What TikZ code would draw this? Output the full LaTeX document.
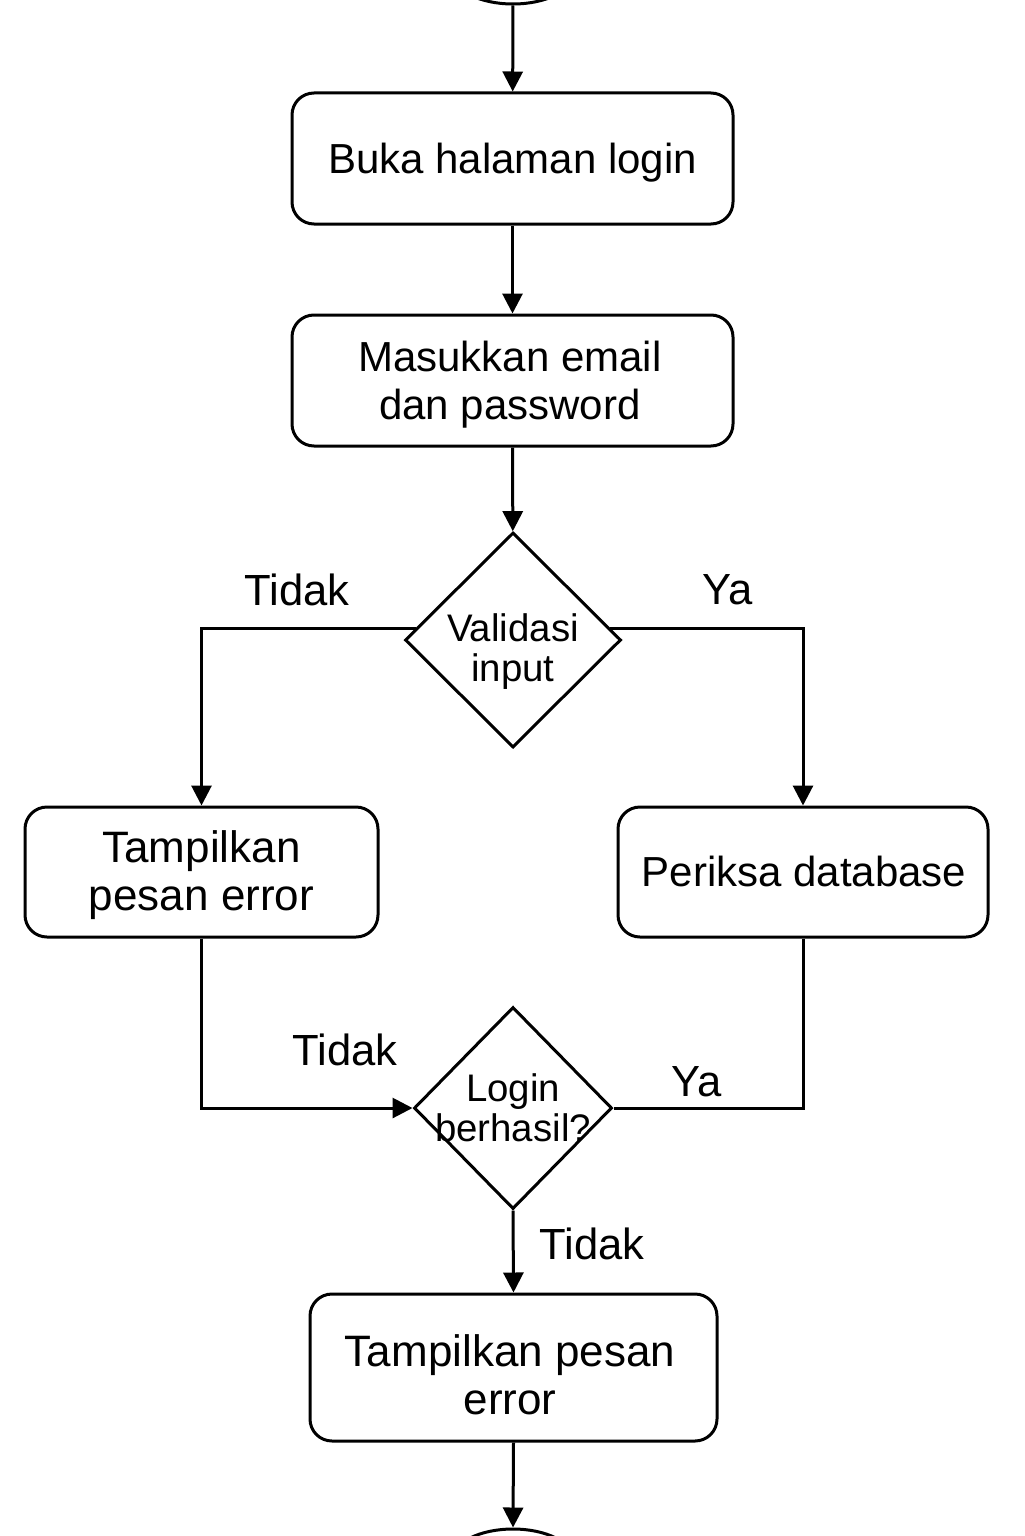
\documentclass[tikz,border=0pt]{standalone}
\usepackage{fontspec}
\setmainfont{Liberation Sans}
\usetikzlibrary{shapes.geometric,arrows.meta}
\begin{document}
\begin{tikzpicture}[x=0.5pt,y=-0.5pt,
  line width=1.5pt,
  box/.style={draw, rounded corners=11pt, inner sep=0pt},
  btext/.style={align=center, inner sep=0pt, font=\fontsize{21}{24}\selectfont},
  btextl/.style={align=center, inner sep=0pt, font=\fontsize{22}{24}\selectfont},
  dec/.style={draw, diamond, inner sep=0pt, aspect=1},
  dectext/.style={align=center, inner sep=0pt, font=\fontsize{19.2}{20}\selectfont},
  term/.style={draw, ellipse, minimum width=60pt, minimum height=30pt},
  lbl/.style={inner sep=0pt, font=\fontsize{21.8}{24}\selectfont},
  arr/.style={-{Triangle[length=10pt,width=10pt]}}]
\clip (0,0) rectangle (1024,1536);
\useasboundingbox (0,0) rectangle (1024,1536);

\node[term] (start) at (513,-26) {};
\node[box, minimum width=220.5pt, minimum height=65.5pt] (buka) at (512.5,158.5) {};
\node[btext] (bukat) at (512.5,163) {Buka halaman login};
\node[box, minimum width=220.5pt, minimum height=65.5pt] (masuk) at (512.5,380.5) {};
\node[btext] (masukt) at (510,385) {Masukkan email\\dan password};
\node[dec, minimum width=108pt, minimum height=107.5pt] (val) at (513,640) {};
\node[dectext] (valt) at (513,652) {Validasi\\input};
\node[box, minimum width=176.5pt, minimum height=65pt] (tl) at (201.5,872) {};
\node[btextl] (tlt) at (201.5,875.5) {Tampilkan\\pesan error};
\node[box, minimum width=185pt, minimum height=65pt] (pd) at (803,872) {};
\node[btext] (pdt) at (804,871) {Periksa database};
\node[dec, minimum width=99pt, minimum height=101pt] (login) at (513,1108) {};
\node[dectext] (logint) at (513,1108) {Login\\berhasil?};
\node[box, minimum width=203.5pt, minimum height=73.5pt] (err) at (513.5,1367.5) {};
\node[btextl] (errt) at (510,1374.5) {Tampilkan pesan\\error};
\node[term] (end) at (513,1559) {};

\draw[arr] (start) -- (buka);
\draw[arr] (buka) -- (masuk);
\draw[arr] (masuk) -- (val);
\draw[arr] (val.173) -| (tl.north);
\draw[arr] (val.7) -| (pd.north);
\draw[arr] (tl.south) |- (login.west);
\draw (pd.south) |- (login.east);
\draw[arr] (login.south) -- (err.north);
\draw[arr] (err.south) -- (end.north);

\node[lbl] (l1) at (297,590) {Tidak};
\node[lbl] (l2) at (728,590) {Ya};
\node[lbl] (l3) at (345,1050) {Tidak};
\node[lbl] (l4) at (697,1082) {Ya};
\node[lbl] (l5) at (592,1244) {Tidak};
\end{tikzpicture}
\end{document}
